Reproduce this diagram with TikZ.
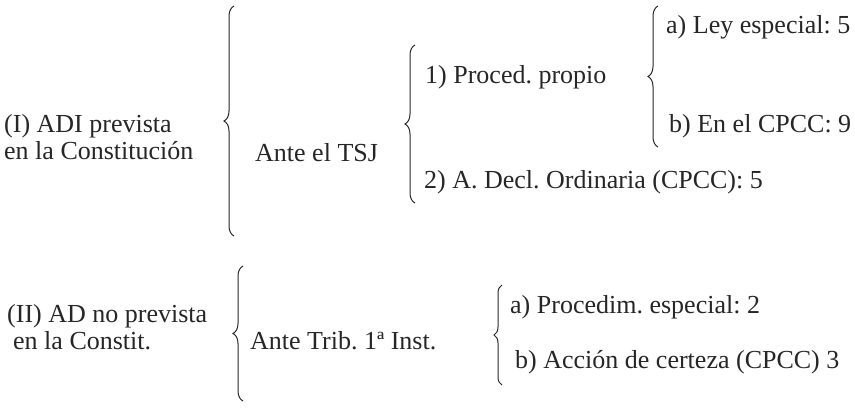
\documentclass[tikz,border=0pt]{standalone}
\usepackage{fontspec}
\setmainfont{Liberation Serif}
\usetikzlibrary{decorations.pathreplacing}

\tikzset{
  lbl/.style={anchor=base west, inner sep=0pt, text=black!85},
  brc/.style={decorate, decoration={brace, amplitude=#1}, line width=1pt, draw=black!85},
}

\begin{document}
\frenchspacing
\begin{tikzpicture}[x=1pt, y=-1pt, font=\fontsize{26}{28}\selectfont]
  \useasboundingbox (0,0) rectangle (855,408);
  % (I) ante el TSJ
  \node[lbl] (adi1) at (4,132) {(I) ADI prevista};
  \node[lbl] (adi2) at (4,159) {en la Constitución};
  \coordinate (b1t) at (234,6);
  \coordinate (b1b) at (234,236);
  \draw[brc=10pt] (b1b) -- (b1t);
  \node[lbl] (tsj) at (255,161) {Ante el TSJ};
  \coordinate (b2t) at (415,45);
  \coordinate (b2b) at (415,203);
  \draw[brc=10pt] (b2b) -- (b2t);
  \node[lbl] (prop) at (425,83) {1) Proced. propio};
  \node[lbl] (decl) at (424,188) {2) A. Decl. Ordinaria (CPCC): 5};
  \coordinate (b3t) at (658,6);
  \coordinate (b3b) at (658,147);
  \draw[brc=10pt] (b3b) -- (b3t);
  \node[lbl] (ley) at (666,33) {a) Ley especial: 5};
  \node[lbl] (cpcc) at (669,132) {b) En el CPCC: 9};
  % (II) ante trib. de 1a inst.
  \node[lbl] (ad1) at (7,322) {(II) AD no prevista};
  \node[lbl] (ad2) at (13,349) {en la Constit.};
  \coordinate (b4t) at (243,266);
  \coordinate (b4b) at (243,401);
  \draw[brc=10pt] (b4b) -- (b4t);
  \node[lbl] (trib) at (250,349) {Ante Trib. 1ª Inst.};
  \coordinate (b5t) at (502,285);
  \coordinate (b5b) at (502,385);
  \draw[brc=8pt] (b5b) -- (b5t);
  \node[lbl] (esp) at (510,313) {a) Procedim. especial: 2};
  \node[lbl] (cert) at (515,368) {b) Acción de certeza (CPCC) 3};
\end{tikzpicture}
\end{document}
